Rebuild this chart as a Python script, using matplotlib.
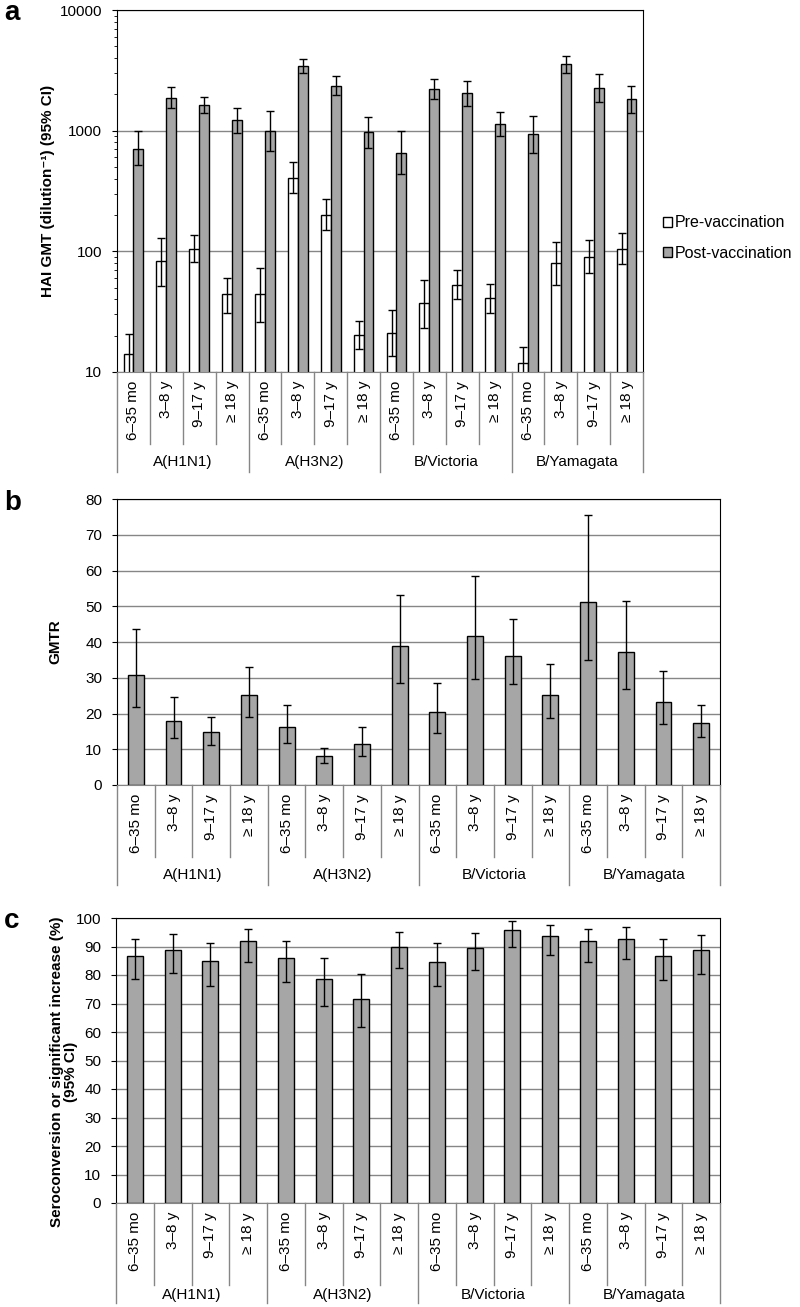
import matplotlib
matplotlib.use('Agg')
import matplotlib.pyplot as plt
from matplotlib.lines import Line2D
import matplotlib.transforms as mtransforms
import numpy as np

plt.rcParams['font.family'] = ['Liberation Sans', 'DejaVu Sans']
plt.rcParams['font.size'] = 11

# categories
strains = ['A(H1N1)', 'A(H3N2)', 'B/Victoria', 'B/Yamagata']
ages = ['6\u201335 mo', '3\u20138 y', '9\u201317 y', '\u2265 18 y']

# panel a: HAI GMT, pre and post vaccination (with 95% CI)
pre_gmt = [14.2, 83, 105, 44, 44, 408, 201, 20.4, 21.1, 37, 53, 41, 11.8, 80, 90, 105]
pre_lo = [9.5, 52, 82, 31, 26, 305, 149, 15.4, 13.7, 23, 40.5, 31, 8.5, 53, 66, 78]
pre_hi = [20.7, 130, 136, 60.5, 73, 545, 274, 26.7, 32.4, 58, 69.5, 54, 16.1, 120, 123, 142]
post_gmt = [711, 1871, 1629, 1222, 1003, 3430, 2355, 966, 647, 2198, 2037, 1132, 935, 3542, 2240, 1825]
post_lo = [517, 1528, 1390, 949, 679, 3020, 1972, 719, 436, 1815, 1596, 900, 659, 3020, 1713, 1390]
post_hi = [1000, 2281, 1905, 1545, 1458, 3945, 2817, 1289, 1000, 2673, 2590, 1432, 1328, 4150, 2943, 2355]

# panel b: GMTR
gmtr = [30.8, 17.9, 14.7, 25.1, 16.3, 8.1, 11.6, 38.9, 20.4, 41.8, 36.2, 25.1, 51.3, 37.3, 23.3, 17.4]
gmtr_lo = [21.8, 13.1, 11.2, 19.0, 11.7, 6.2, 8.2, 28.5, 14.5, 29.7, 28.2, 18.7, 34.9, 26.8, 17.0, 13.4]
gmtr_hi = [43.6, 24.5, 19.1, 33.1, 22.4, 10.4, 16.3, 53.2, 28.5, 58.6, 46.4, 33.8, 75.6, 51.5, 32.0, 22.4]

# panel c: seroconversion or significant increase (%)
sc = [86.8, 88.8, 84.8, 91.8, 85.9, 78.5, 71.6, 89.9, 84.7, 89.5, 95.9, 93.7, 91.8, 92.8, 86.7, 88.6]
sc_lo = [78.5, 80.8, 76.1, 84.5, 77.4, 69.0, 61.7, 82.4, 76.1, 81.8, 89.8, 87.0, 84.6, 85.6, 78.4, 80.5]
sc_hi = [92.7, 94.4, 91.4, 96.3, 91.9, 86.1, 80.2, 95.1, 91.2, 94.7, 98.8, 97.6, 96.3, 97.0, 92.6, 94.2]

BAR = '#a6a6a6'
GRID = '#868686'

fig = plt.figure(figsize=(8, 13.07), dpi=100)


def px_axes(l, t, r, b):
    return fig.add_axes([l / 800, 1 - b / 1307, (r - l) / 800, (b - t) / 1307])


def style(ax):
    ax.set_xlim(-0.5, 15.5)
    ax.set_xticks([])
    for s in ['top', 'right', 'left']:
        ax.spines[s].set_color('black')
    ax.spines['bottom'].set_color(GRID)
    ax.yaxis.grid(True, color=GRID, lw=1)
    ax.set_axisbelow(True)
    ax.tick_params(axis='y', which='major', length=3.6, pad=7, labelsize=11)
    ax.tick_params(axis='y', which='minor', length=2.2)


def cat_labels(ax, h_px, cat_px, grp_px, grp_lbl_px):
    tr = mtransforms.blended_transform_factory(ax.transData, ax.transAxes)
    n = len(strains) * len(ages)
    for i in range(n + 1):
        depth = grp_px if i % len(ages) == 0 else cat_px
        ax.add_line(Line2D([i - 0.5, i - 0.5], [0, -depth / h_px], transform=tr,
                           color=GRID, lw=1, clip_on=False))
    for i in range(n):
        ax.text(i, -9 / h_px, ages[i % len(ages)], transform=tr, rotation=90,
                ha='center', va='top', fontsize=11)
    for g, name in enumerate(strains):
        ax.text(g * len(ages) + 1.5, -grp_lbl_px / h_px, name, transform=tr,
                ha='center', va='center', fontsize=11)


x = np.arange(len(pre_gmt))

# ---- panel a ----
ax1 = px_axes(117, 10, 643, 372)
style(ax1)
ax1.set_yscale('log')
ax1.set_ylim(10, 10000)
ax1.set_yticks([10, 100, 1000, 10000])
ax1.set_yticklabels(['10', '100', '1000', '10000'])
w = 0.3
pre = np.array(pre_gmt)
post = np.array(post_gmt)
ax1.bar(x - w / 2, pre, w, color='white', edgecolor='black', lw=1, label='Pre-vaccination')
ax1.bar(x + w / 2, post, w, color=BAR, edgecolor='black', lw=1, label='Post-vaccination')
ax1.errorbar(x - w / 2, pre, yerr=[pre - np.array(pre_lo), np.array(pre_hi) - pre],
             fmt='none', ecolor='black', elinewidth=1, capsize=3, capthick=1)
ax1.errorbar(x + w / 2, post, yerr=[post - np.array(post_lo), np.array(post_hi) - post],
             fmt='none', ecolor='black', elinewidth=1, capsize=3, capthick=1)
ax1.set_ylabel('HAI GMT (dilution\u207b\u00b9) (95% CI)', fontweight='bold', fontsize=11)
ax1.yaxis.set_label_coords(-0.118, 0.5)
ax1.legend(loc='center left', bbox_to_anchor=(1.025, 0.37), frameon=False,
           handlelength=0.6, handleheight=0.6, handletextpad=0.15, labelspacing=0.95,
           fontsize=11.5, borderaxespad=0)
cat_labels(ax1, 362, 72, 100, 90)

# ---- panel b ----
ax2 = px_axes(117, 499, 720, 785)
style(ax2)
ax2.set_ylim(0, 80)
ax2.set_yticks(range(0, 81, 10))
g = np.array(gmtr)
ax2.bar(x, g, 0.42, color=BAR, edgecolor='black', lw=1)
ax2.errorbar(x, g, yerr=[g - np.array(gmtr_lo), np.array(gmtr_hi) - g],
             fmt='none', ecolor='black', elinewidth=1, capsize=3, capthick=1)
ax2.set_ylabel('GMTR', fontweight='bold', fontsize=11)
ax2.yaxis.set_label_coords(-0.091, 0.5)
cat_labels(ax2, 286, 72, 100, 90)

# ---- panel c ----
ax3 = px_axes(116, 918, 720, 1203)
style(ax3)
ax3.set_ylim(0, 100)
ax3.set_yticks(range(0, 101, 10))
s = np.array(sc)
ax3.bar(x, s, 0.42, color=BAR, edgecolor='black', lw=1)
ax3.errorbar(x, s, yerr=[s - np.array(sc_lo), np.array(sc_hi) - s],
             fmt='none', ecolor='black', elinewidth=1, capsize=3, capthick=1)
ax3.set_ylabel('Seroconversion or significant increase (%)\n(95% CI)',
               fontweight='bold', fontsize=11, linespacing=1.0)
ax3.yaxis.set_label_coords(-0.063, 0.46)
cat_labels(ax3, 285, 82, 100, 92)

for lbl, yy in [('a', 20), ('b', 510), ('c', 928)]:
    fig.text(4 / 800, 1 - yy / 1307, lbl, fontsize=20, fontweight='bold', ha='left', va='baseline')

fig.savefig('out.png', dpi=100)
